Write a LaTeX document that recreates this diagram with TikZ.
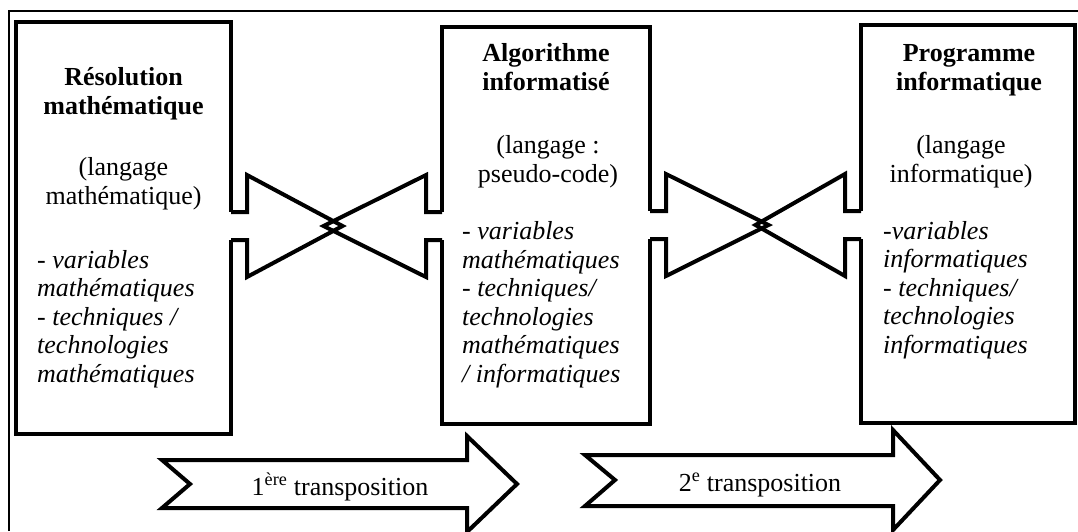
\documentclass[tikz,border=0pt]{standalone}
\usepackage{fontspec}
\setmainfont{Liberation Serif}
\usetikzlibrary{calc}

\newcommand{\bigfont}{\fontsize{26}{28.5}\selectfont}
\tikzset{
	box/.style={draw, line width=4pt, fill=white, inner sep=0pt},
	outline/.style={line width=4pt},
	txt/.style={inner sep=0pt, font=\bigfont},
}

\begin{document}
\begin{tikzpicture}[x=1pt, y=-1pt]
		\useasboundingbox (0,0) rectangle (1078,531);
		
		% frame, cut on two sides
		\draw[line width=1.3pt] (9,531) -- (9,11) -- (1078,11);
		
		% the three boxes
		\node[box, minimum width=215pt, minimum height=412pt] (res) at (123.5,228) {};
		\node[box, minimum width=208pt, minimum height=397pt] (algo) at (546,225.5) {};
		\node[box, minimum width=214pt, minimum height=398pt] (prog) at (968,224) {};
		
		% texts (placed by the baseline of their last line)
		\node[txt, anchor=base, align=center, font=\bigfont\bfseries] (res-title) at (123.5,114) {Résolution\\mathématique};
		\node[txt, anchor=base, align=center] (res-lang) at (123.5,204) {(langage\\mathématique)};
		\node[txt, anchor=base west, align=left, font=\bigfont\itshape] (res-list) at (37,382) {- variables\\mathématiques\\- techniques /\\technologies\\mathématiques};
		
		\node[txt, anchor=base, align=center, font=\bigfont\bfseries] (algo-title) at (546,90) {Algorithme\\informatisé};
		\node[txt, anchor=base, align=center] (algo-lang) at (548,182) {(langage :\\pseudo-code)};
		\node[txt, anchor=base west, align=left, font=\bigfont\itshape] (algo-list) at (462,382) {- variables\\mathématiques\\- techniques/\\technologies\\mathématiques\\/ informatiques};
		
		\node[txt, anchor=base, align=center, font=\bigfont\bfseries] (prog-title) at (969,90) {Programme\\informatique};
		\node[txt, anchor=base, align=center] (prog-lang) at (961,182) {(langage\\informatique)};
		\node[txt, anchor=base west, align=left, font=\bigfont\itshape] (prog-list) at (883,353) {-variables\\informatiques\\- techniques/\\technologies\\informatiques};
		
		% crossed arrows between the boxes
		\foreach \l/\r/\yc/\ta/\tb in {res/algo/226/6/-13, algo/prog/225/13/0}{
			\coordinate (a) at (\l.east |- 0,\yc);
			\coordinate (b) at (\r.west |- 0,\yc);
			\coordinate (m) at ($(a)!0.5!(b)$);
			\fill[white] ($(a)+(-4,-14)$) rectangle ($(a)+(14,14)$);
			\fill[white] ($(b)+(4,-14)$) rectangle ($(b)+(-14,14)$);
			\draw[outline] ($(a)+(-2,-14)$) -- ($(a)+(14,-14)$) -- ($(a)+(14,-51)$) -- ($(m)+(\ta,0)$) -- ($(a)+(14,51)$) -- ($(a)+(14,14)$) -- ($(a)+(-2,14)$);
			\draw[outline] ($(b)+(2,-14)$) -- ($(b)+(-14,-14)$) -- ($(b)+(-14,-51)$) -- ($(m)+(\tb,0)$) -- ($(b)+(-14,51)$) -- ($(b)+(-14,14)$) -- ($(b)+(2,14)$);
		}
		
		% transposition arrows
		\draw[outline, fill=white] (162,460) -- (467,460) -- (467,436) -- (517,484) -- (467,532) -- (467,508) -- (162,508) -- (190,484) -- cycle;
		\node[txt, anchor=base] (trans1) at (340,495) {1\textsuperscript{ère} transposition};
		
		\draw[outline, fill=white] (585,455) -- (893,455) -- (893,430) -- (940,480) -- (893,530) -- (893,506) -- (585,506) -- (615,480) -- cycle;
		\node[txt, anchor=base] (trans2) at (760,491) {2\textsuperscript{e} transposition};
		
\end{tikzpicture}
\end{document}
